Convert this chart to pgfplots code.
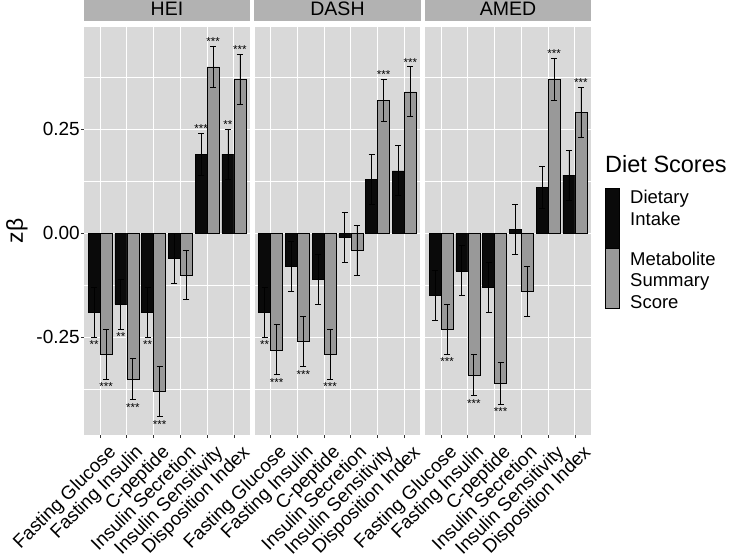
\documentclass[border=0pt]{standalone}
\usepackage{fontspec}
\setmainfont{Liberation Sans}
\usepackage{pgfplots}
\pgfplotsset{compat=1.18}
\definecolor{panelbg}{gray}{0.85}
\definecolor{stripbg}{gray}{0.70}
\definecolor{barg}{gray}{0.60}
\definecolor{barb}{gray}{0.04}
\definecolor{tickc}{gray}{0.2}
\newcommand\ticksize{\fontsize{19}{22}\selectfont}
\newcommand\xticksize{\fontsize{18.8}{22}\selectfont}
\newcommand\stripsize{\fontsize{19.5}{22}\selectfont}
\newcommand\starsize{\fontsize{11.5}{12}\selectfont}
\pgfplotsset{
  facet/.style={
    scale only axis, width=166pt, height=408pt, anchor=south west,
    xmin=0.4, xmax=6.6, ymin=-0.4846, ymax=0.4956,
    axis background/.style={fill=panelbg},
    axis line style={draw=none},
    xtick={1,...,6}, ytick={-0.25,0,0.25},
    minor ytick={-0.375,-0.125,0.125,0.375},
    xmajorgrids, ymajorgrids, yminorgrids,
    major grid style={white, line width=1.1pt},
    minor grid style={white, line width=0.55pt},
    tick align=outside, major tick length=3pt, minor tick length=0pt,
    tick pos=left,
    xtick style={tickc, line width=0.8pt},
    xticklabels={Fasting Glucose, Fasting Insulin, C-peptide, Insulin Secretion, Insulin Sensitivity, Disposition Index},
    x tick label style={xshift=7pt, yshift=-4pt, rotate=45, anchor=north east, font=\xticksize, inner sep=1pt},
    y tick label style={font=\ticksize, inner sep=1pt},
    title style={at={(rel axis cs:0.5,1)}, anchor=south, yshift=0pt, fill=stripbg,
      minimum width=166pt, minimum height=25pt, inner sep=0pt, font=\stripsize, text=black},
    clip=false,
  },
  bblack/.style={ybar, bar width=0.45, bar shift=0pt, fill=barb, draw=black, line width=0.5pt,
    error bars/.cd, y dir=both, y explicit,
    error bar style={black, line width=0.8pt},
    error mark options={rotate=90, black, line width=0.8pt, mark size=3pt}},
  bgray/.style={ybar, bar width=0.45, bar shift=0pt, fill=barg, draw=black, line width=0.5pt,
    error bars/.cd, y dir=both, y explicit,
    error bar style={black, line width=0.8pt},
    error mark options={rotate=90, black, line width=0.8pt, mark size=3pt}},
  starsbelow/.style={draw=none, nodes near coords, point meta=explicit symbolic,
    every node near coord/.style={font=\starsize, anchor=north, inner sep=0.5pt, yshift=-3pt}},
  starsabove/.style={draw=none, nodes near coords, point meta=explicit symbolic,
    every node near coord/.style={font=\starsize, anchor=south, inner sep=0.5pt}},
}
\begin{document}
\begin{tikzpicture}
\path[use as bounding box] (0,0) rectangle (733pt,-557pt);
% ---------------- HEI
\begin{axis}[facet, at={(84pt,-435pt)}, title={HEI},
  yticklabels={-0.25,0.00,0.25}, ytick style={tickc, line width=0.8pt}]
\addplot[bblack] coordinates {(0.775,-0.19) +- (0,0.06) (1.775,-0.17) +- (0,0.06) (2.775,-0.19) +- (0,0.06)
  (3.775,-0.06) +- (0,0.06) (4.775,0.19) +- (0,0.05) (5.775,0.19) +- (0,0.06)};
\addplot[bgray] coordinates {(1.225,-0.29) +- (0,0.06) (2.225,-0.35) +- (0,0.05) (3.225,-0.38) +- (0,0.06)
  (4.225,-0.10) +- (0,0.06) (5.225,0.40) +- (0,0.05) (6.225,0.37) +- (0,0.06)};
\addplot[starsbelow] coordinates {(0.775,-0.25)[**] (1.775,-0.23)[**] (2.775,-0.25)[**]
  (1.225,-0.35)[***] (2.225,-0.40)[***] (3.225,-0.44)[***]};
\addplot[starsabove] coordinates {(4.775,0.24)[***] (5.775,0.25)[**] (5.225,0.45)[***] (6.225,0.43)[***]};
\end{axis}
% ---------------- DASH
\begin{axis}[facet, at={(254.5pt,-435pt)}, title={DASH},
  yticklabels={}, ytick style={draw=none}]
\addplot[bblack] coordinates {(0.775,-0.19) +- (0,0.06) (1.775,-0.08) +- (0,0.06) (2.775,-0.11) +- (0,0.06)
  (3.775,-0.01) +- (0,0.06) (4.775,0.13) +- (0,0.06) (5.775,0.15) +- (0,0.06)};
\addplot[bgray] coordinates {(1.225,-0.28) +- (0,0.06) (2.225,-0.26) +- (0,0.06) (3.225,-0.29) +- (0,0.06)
  (4.225,-0.04) +- (0,0.06) (5.225,0.32) +- (0,0.05) (6.225,0.34) +- (0,0.06)};
\addplot[starsbelow] coordinates {(0.775,-0.25)[**] (1.225,-0.34)[***] (2.225,-0.32)[***] (3.225,-0.35)[***]};
\addplot[starsabove] coordinates {(5.225,0.37)[***] (6.225,0.40)[***]};
\end{axis}
% ---------------- AMED
\begin{axis}[facet, at={(425pt,-435pt)}, title={AMED},
  yticklabels={}, ytick style={draw=none}]
\addplot[bblack] coordinates {(0.775,-0.15) +- (0,0.06) (1.775,-0.09) +- (0,0.06) (2.775,-0.13) +- (0,0.06)
  (3.775,0.01) +- (0,0.06) (4.775,0.11) +- (0,0.05) (5.775,0.14) +- (0,0.06)};
\addplot[bgray] coordinates {(1.225,-0.23) +- (0,0.06) (2.225,-0.34) +- (0,0.05) (3.225,-0.36) +- (0,0.05)
  (4.225,-0.14) +- (0,0.06) (5.225,0.37) +- (0,0.05) (6.225,0.29) +- (0,0.06)};
\addplot[starsbelow] coordinates {(1.225,-0.29)[***] (2.225,-0.39)[***] (3.225,-0.41)[***]};
\addplot[starsabove] coordinates {(5.225,0.42)[***] (6.225,0.35)[***]};
\end{axis}
% ---------------- y axis title
\node[rotate=90, anchor=center, inner sep=0pt, font=\fontsize{23}{26}\selectfont] at (17pt,-231pt) {zβ};
% ---------------- legend
\node[anchor=base west, inner sep=0pt, font=\fontsize{23.5}{26}\selectfont] at (605pt,-172.3pt) {Diet Scores};
\filldraw[fill=barb, draw=black, line width=0.5pt] (605.5pt,-188pt) rectangle (619pt,-248pt);
\filldraw[fill=barg, draw=black, line width=0.5pt] (605.5pt,-248pt) rectangle (619pt,-308pt);
\begin{scope}[every node/.style={anchor=base west, inner sep=0pt, font=\fontsize{18.5}{21}\selectfont}]
\node at (630pt,-203.3pt) {Dietary};
\node at (630pt,-225pt) {Intake};
\node at (630pt,-265pt) {Metabolite};
\node at (630pt,-286.7pt) {Summary};
\node at (630pt,-308.3pt) {Score};
\end{scope}
\end{tikzpicture}
\end{document}
